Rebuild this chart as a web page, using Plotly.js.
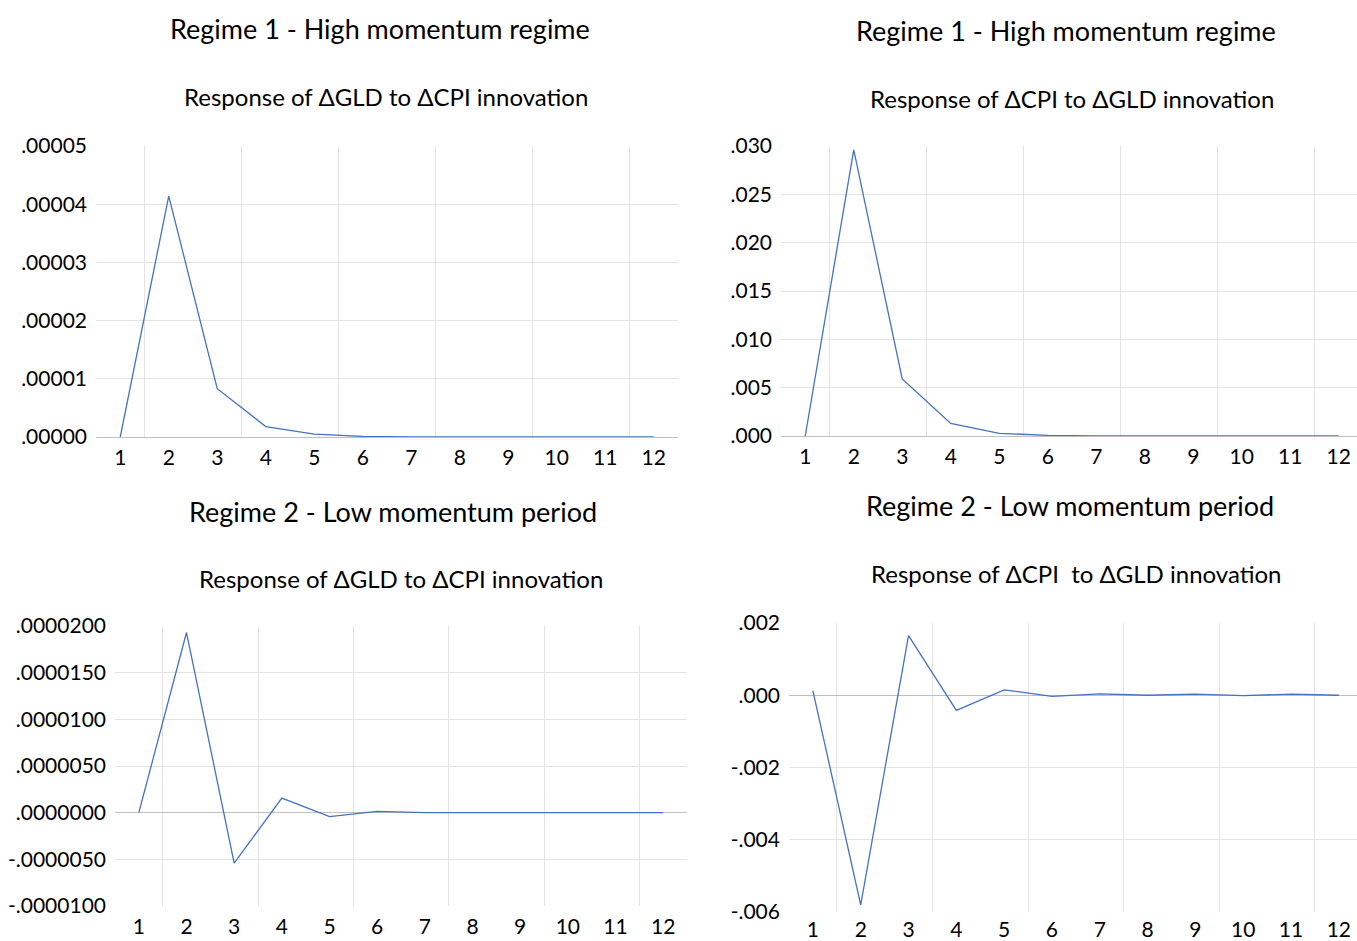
<!DOCTYPE html>
<html>
<head>
<meta charset="utf-8">
<script src="https://cdn.plot.ly/plotly-3.0.1.min.js"></script>
<style>html,body{margin:0;padding:0;background:#fff;}#chart{width:1357px;height:941px;}</style>
</head>
<body>
<div id="chart"></div>
<script>
// ---- Data ----
var periods = [1, 2, 3, 4, 5, 6, 7, 8, 9, 10, 11, 12];
var periodLabels = ["1","2","3","4","5","6","7","8","9","10","11","12"];

var r1GldToCpi = [0, 0.0000414, 0.0000083, 0.0000018, 0.0000005, 0.0000001, 0.00000002, 0, 0, 0, 0, 0];
var r1CpiToGld = [0, 0.0296, 0.0059, 0.0013, 0.00028, 0.00007, 0.00001, 0, 0, 0, 0, 0];
var r2GldToCpi = [0, 0.0000193, -0.0000054, 0.00000156, -0.00000043, 0.00000014, 0.00000001, 0, 0, 0, 0, 0];
var r2CpiToGld = [0.00012, -0.0058, 0.00165, -0.00042, 0.00015, -0.00003, 0.00004, 0.0, 0.00003, -0.00001, 0.00003, 0.0];

var y1Ticks = [0, 0.00001, 0.00002, 0.00003, 0.00004, 0.00005];
var y1Labels = [".00000", ".00001", ".00002", ".00003", ".00004", ".00005"];
var y2Ticks = [0, 0.005, 0.010, 0.015, 0.020, 0.025, 0.030];
var y2Labels = [".000", ".005", ".010", ".015", ".020", ".025", ".030"];
var y3Ticks = [-0.00001, -0.000005, 0, 0.000005, 0.00001, 0.000015, 0.00002];
var y3Labels = ["-.0000100", "-.0000050", ".0000000", ".0000050", ".0000100", ".0000150", ".0000200"];
var y4Ticks = [-0.006, -0.004, -0.002, 0, 0.002];
var y4Labels = ["-.006", "-.004", "-.002", ".000", ".002"];

var xGridVals = [1.5, 3.5, 5.5, 7.5, 9.5, 11.5];

var titles = [
  "Regime 1 - High momentum regime",
  "Regime 1 - High momentum regime",
  "Regime 2 - Low momentum period",
  "Regime 2 - Low momentum period"
];
var subtitles = [
  "Response of \u0394GLD to \u0394CPI innovation",
  "Response of \u0394CPI to \u0394GLD innovation",
  "Response of \u0394GLD to \u0394CPI innovation",
  "Response of \u0394CPI&nbsp; to \u0394GLD innovation"
];

// ---- Layout helpers ----
var W = 1357, H = 941;
var FONT = "Lato, 'Open Sans', sans-serif";
function px(x) { return x / W; }
function py(y) { return 1 - y / H; }

var panels = [
  {series: r1GldToCpi, ticks: y1Ticks, labels: y1Labels, left: 96, right: 678, top: 146, bottom: 437, xmax: 12.5,
   xstand: 6, title: [380, 28], sub: [386, 97]},
  {series: r1CpiToGld, ticks: y2Ticks, labels: y2Labels, left: 781, right: 1357, top: 146, bottom: 436, xmax: 12.376,
   xstand: 6, title: [1066, 30], sub: [1072, 98]},
  {series: r2GldToCpi, ticks: y3Ticks, labels: y3Labels, left: 115, right: 687, top: 626, bottom: 906, xmax: 12.5,
   xstand: 6, title: [393, 511], sub: [401, 578]},
  {series: r2CpiToGld, ticks: y4Ticks, labels: y4Labels, left: 789, right: 1357, top: 623, bottom: 912, xmax: 12.38,
   xstand: 3, title: [1070, 506], sub: [1076, 573]}
];

var data = [];
var layout = {
  width: W, height: H,
  margin: {l: 0, r: 0, t: 0, b: 0},
  paper_bgcolor: "#ffffff",
  plot_bgcolor: "#ffffff",
  showlegend: false,
  font: {family: FONT, color: "#000000"},
  annotations: []
};

panels.forEach(function (p, i) {
  var n = i + 1;
  var xa = "x" + (n === 1 ? "" : n), ya = "y" + (n === 1 ? "" : n);
  data.push({
    x: periods, y: p.series, type: "scatter", mode: "lines",
    line: {color: "#4472C4", width: 1.3},
    xaxis: xa, yaxis: ya, hoverinfo: "x+y"
  });
  var interior = p.ticks.slice(1, p.ticks.length - 1);
  layout["xaxis" + (n === 1 ? "" : n)] = {
    domain: [px(p.left), px(p.right)],
    anchor: ya,
    range: [0.5, p.xmax],
    tickmode: "array", tickvals: periods, ticktext: periodLabels,
    showgrid: false, zeroline: false, showline: false,
    ticks: "", ticklabelstandoff: p.xstand,
    tickfont: {family: FONT, size: 21, color: "#000000"},
    minor: {tickmode: "array", tickvals: xGridVals, showgrid: true, gridcolor: "#e3e3e3", gridwidth: 1, ticks: ""},
    fixedrange: true
  };
  layout["yaxis" + (n === 1 ? "" : n)] = {
    domain: [py(p.bottom), py(p.top)],
    anchor: xa,
    range: [p.ticks[0], p.ticks[p.ticks.length - 1]],
    tickmode: "array", tickvals: p.ticks, ticktext: p.labels,
    showgrid: false, zeroline: true, zerolinecolor: "#bfbfbf", zerolinewidth: 1,
    showline: false, ticks: "", ticklabelstandoff: 8,
    tickfont: {family: FONT, size: 21, color: "#000000"},
    minor: {tickmode: "array", tickvals: interior, showgrid: true, gridcolor: "#e3e3e3", gridwidth: 1, ticks: ""},
    fixedrange: true
  };
  layout.annotations.push({
    text: titles[i], xref: "paper", yref: "paper",
    x: px(p.title[0]), y: py(p.title[1]), xanchor: "center", yanchor: "middle",
    showarrow: false, font: {family: FONT, size: 27, color: "#000000"}
  });
  layout.annotations.push({
    text: subtitles[i], xref: "paper", yref: "paper",
    x: px(p.sub[0]), y: py(p.sub[1]), xanchor: "center", yanchor: "middle",
    showarrow: false, font: {family: FONT, size: 24, color: "#000000"}
  });
});

Plotly.newPlot("chart", data, layout, {displayModeBar: false, staticPlot: true});
</script>
</body>
</html>
